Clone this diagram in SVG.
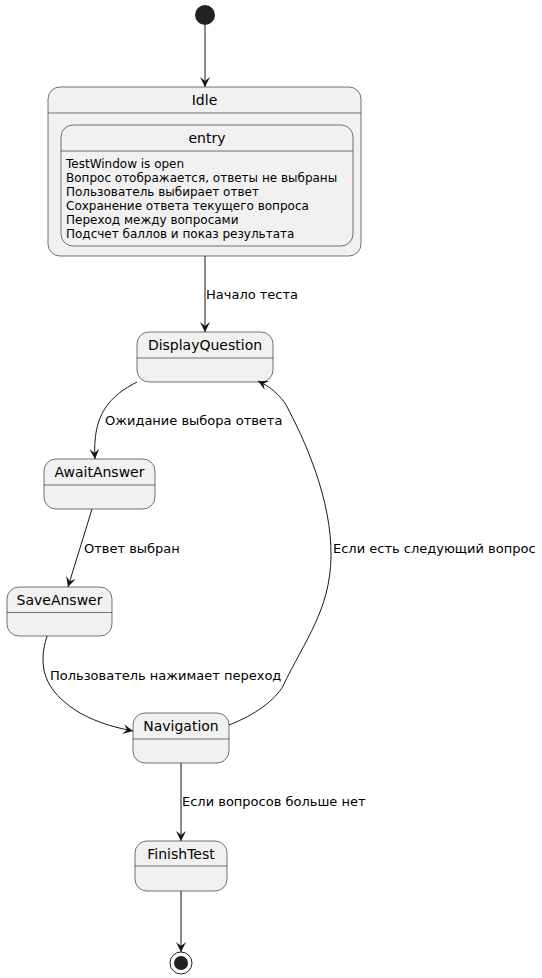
<svg xmlns="http://www.w3.org/2000/svg" width="542" height="978" viewBox="0 0 542 978">
  <style>
    .st { fill: #F1F1F1; stroke: #181818; stroke-width: 0.6; }
    .sep { stroke: #181818; stroke-width: 0.6; }
    .ttl { font-family: "DejaVu Sans", "Liberation Sans", sans-serif; font-size: 14px; fill: #000; text-anchor: middle; }
    .body { font-family: "DejaVu Sans", "Liberation Sans", sans-serif; font-size: 12px; fill: #000; }
    .lbl { font-family: "DejaVu Sans", "Liberation Sans", sans-serif; font-size: 13px; fill: #000; }
    .edge { fill: none; stroke: #181818; stroke-width: 1; }
  </style>
  <defs>
    <marker id="arrow" viewBox="0 0 10 10" refX="10" refY="5" markerWidth="10" markerHeight="10" markerUnits="userSpaceOnUse" orient="auto">
      <path d="M0,0 L10,5 L0,10 L4,5 Z" fill="#181818"/>
    </marker>
  </defs>

  <!-- start / end pseudo-states -->
  <g id="start">
    <circle cx="205" cy="15" r="10" fill="#222222"/>
  </g>
  <g id="end">
    <circle cx="181" cy="963" r="11" fill="none" stroke="#222222" stroke-width="1"/>
    <circle cx="181" cy="963" r="7" fill="#222222"/>
  </g>

  <!-- Idle composite state with entry block -->
  <g id="Idle">
    <rect class="st" x="48" y="87" width="313" height="169" rx="12"/>
    <line class="sep" x1="48" y1="113" x2="361" y2="113"/>
    <text class="ttl" x="204.5" y="105">Idle</text>
    <g id="entry">
      <rect class="st" x="61" y="125" width="292" height="121" rx="12"/>
      <line class="sep" x1="61" y1="151" x2="353" y2="151"/>
      <text class="ttl" x="207" y="143">entry</text>
      <text class="body" x="66" y="168">TestWindow is open</text>
      <text class="body" x="66" y="182">Вопрос отображается, ответы не выбраны</text>
      <text class="body" x="66" y="196">Пользователь выбирает ответ</text>
      <text class="body" x="66" y="210">Сохранение ответа текущего вопроса</text>
      <text class="body" x="66" y="224">Переход между вопросами</text>
      <text class="body" x="66" y="237.5">Подсчет баллов и показ результата</text>
    </g>
  </g>

  <g id="DisplayQuestion">
    <rect class="st" x="137" y="332" width="136" height="50" rx="12"/>
    <line class="sep" x1="137" y1="358" x2="273" y2="358"/>
    <text class="ttl" x="205" y="350">DisplayQuestion</text>
  </g>

  <g id="AwaitAnswer">
    <rect class="st" x="44" y="459" width="111" height="50" rx="12"/>
    <line class="sep" x1="44" y1="485" x2="155" y2="485"/>
    <text class="ttl" x="99.5" y="477">AwaitAnswer</text>
  </g>

  <g id="SaveAnswer">
    <rect class="st" x="7" y="587" width="105" height="49" rx="12"/>
    <line class="sep" x1="7" y1="612.5" x2="112" y2="612.5"/>
    <text class="ttl" x="59.5" y="605">SaveAnswer</text>
  </g>

  <g id="Navigation">
    <rect class="st" x="133" y="713" width="96" height="50" rx="12"/>
    <line class="sep" x1="133" y1="739" x2="229" y2="739"/>
    <text class="ttl" x="181" y="731">Navigation</text>
  </g>

  <g id="FinishTest">
    <rect class="st" x="135" y="841" width="92" height="50" rx="12"/>
    <line class="sep" x1="135" y1="866" x2="227" y2="866"/>
    <text class="ttl" x="181" y="859">FinishTest</text>
  </g>

  <!-- transitions -->
  <g id="connectors">
    <path class="edge" d="M205,25 L205,87" marker-end="url(#arrow)"/>

    <path class="edge" d="M205,256 L205,332" marker-end="url(#arrow)"/>
    <text class="lbl" x="206" y="299">Начало теста</text>

    <path class="edge" d="M137,382 C110,396 92,414 95,459" marker-end="url(#arrow)"/>
    <text class="lbl" x="105" y="425">Ожидание выбора ответа</text>

    <path class="edge" d="M92,509 L68,587" marker-end="url(#arrow)"/>
    <text class="lbl" x="84" y="553">Ответ выбран</text>

    <path class="edge" d="M47,636 C38,665 42,690 80,713 C100,724 118,728 133,731" marker-end="url(#arrow)"/>
    <text class="lbl" x="50" y="680">Пользователь нажимает переход</text>

    <path class="edge" d="M229,725 C255,715 275,700 283,686 C305,640 330,610 331,557 C332,500 305,440 285,403 C275,390 268,386 258,381" marker-end="url(#arrow)"/>
    <text class="lbl" x="333" y="553">Если есть следующий вопрос</text>

    <path class="edge" d="M181,763 L181,841" marker-end="url(#arrow)"/>
    <text class="lbl" x="182" y="806">Если вопросов больше нет</text>

    <path class="edge" d="M181,891 L181,952" marker-end="url(#arrow)"/>
  </g>
</svg>
